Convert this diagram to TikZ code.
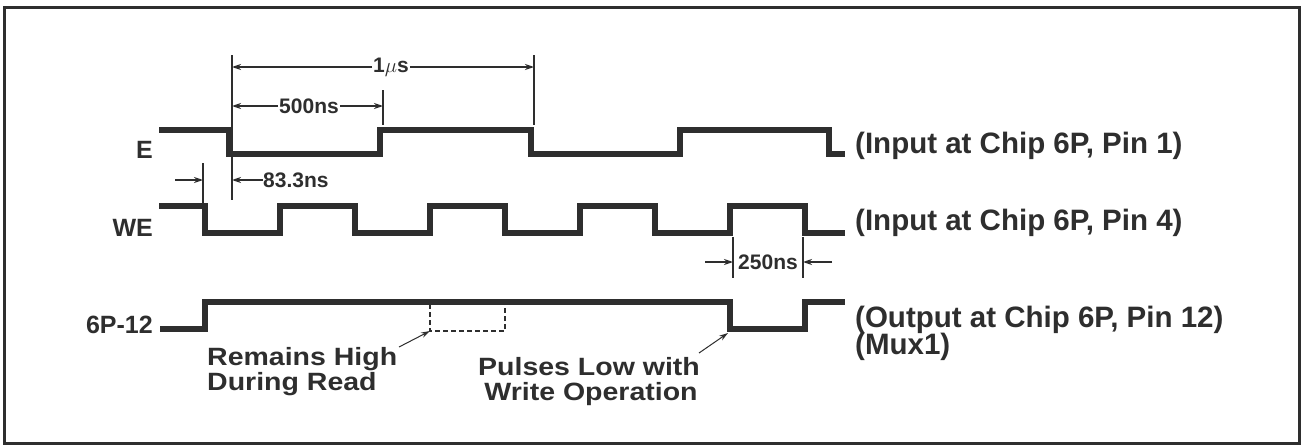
\documentclass[tikz,border=0pt]{standalone}
\usepackage{fontspec}
\setmainfont{Liberation Sans}
\newfontfamily\annfont{Liberation Sans}[FakeStretch=1.14]
\usetikzlibrary{arrows.meta}
\definecolor{ink}{HTML}{2E2E2E}
\begin{document}
\begin{tikzpicture}[x=1pt,y=-1pt,
  wave/.style={line width=6pt, draw=ink, line join=miter},
  dimline/.style={line width=1.3pt, draw=ink},
  dimarrow/.style={dimline, -{Stealth[length=9pt,width=6pt]}},
  annarrow/.style={line width=1pt, draw=ink, -{Stealth[length=9pt,width=5.5pt]}},
  dashbox/.style={line width=1.3pt, draw=ink, dash pattern=on 5pt off 3pt},
  sig/.style={font=\bfseries\fontsize{25}{28}\selectfont, text=ink, inner sep=0pt, anchor=base east},
  desc/.style={font=\bfseries\fontsize{29.5}{30}\selectfont, text=ink, inner sep=0pt, anchor=base west},
  dimtext/.style={font=\bfseries\fontsize{21}{24}\selectfont, text=ink, inner sep=1pt, fill=white},
  ann/.style={font=\annfont\bfseries\fontsize{25}{25}\selectfont, text=ink, inner sep=0pt}
]
\useasboundingbox (0,0) rectangle (1302,447);
\fill[white] (0,0) rectangle (1302,447);
% frame
\draw[line width=3pt, draw=ink] (4,7) rectangle (1299,443);

% signal labels
\node[sig] (lE) at (153,158) {E};
\node[sig] (lWE) at (153,236) {WE};
\node[sig] (l6P) at (153,333) {6P-12};

% waveforms
\draw[wave] (159,130) -- (229,130) -- (229,154) -- (380,154) -- (380,130) -- (531,130)
  -- (531,154) -- (680,154) -- (680,130) -- (829,130) -- (829,154) -- (845,154);
\draw[wave] (159,206) -- (205,206) -- (205,233) -- (280,233) -- (280,206) -- (355,206)
  -- (355,233) -- (430,233) -- (430,206) -- (505,206) -- (505,233) -- (580,233)
  -- (580,206) -- (655,206) -- (655,233) -- (730,233) -- (730,206) -- (805,206)
  -- (805,233) -- (845,233);
\draw[wave] (160,329) -- (205,329) -- (205,301.5) -- (730,301.5) -- (730,329)
  -- (805,329) -- (805,301.5) -- (845,301.5);

% dashed "would-be" pulse
\coordinate (d1) at (430,331);
\coordinate (d2) at (505,331);
\draw[dashbox] (430,304) -- (d1) -- (d2) -- (505,304);

% right-hand descriptions
\node[desc] (dE) at (855,153) {(Input at Chip 6P, Pin 1)};
\node[desc] (dWE) at (855,230) {(Input at Chip 6P, Pin 4)};
\node[desc] (d6P) at (855,327) {(Output at Chip 6P, Pin 12)};
\node[desc] (dMux) at (855,354) {(Mux1)};

% extension lines
\draw[dimline] (232,55) -- (232,200);
\draw[dimline] (534,55) -- (534,125);
\draw[dimline] (383,90) -- (383,125);
\draw[dimline] (203,163) -- (203,203);
\draw[dimline] (733,237) -- (733,278);
\draw[dimline] (803,237) -- (803,278);

% 1 us
\coordinate (u1) at (232,67);
\coordinate (u2) at (534,67);
\node[dimtext] (tus) at (391,67) {1$\mu$s};
\draw[dimarrow] (tus.west) -- (u1);
\draw[dimarrow] (tus.east) -- (u2);

% 500 ns
\coordinate (h1) at (232,106);
\coordinate (h2) at (383,106);
\node[dimtext] (t500) at (309,106) {500ns};
\draw[dimarrow] (t500.west) -- (h1);
\draw[dimarrow] (t500.east) -- (h2);

% 83.3 ns
\coordinate (s0) at (175,180);
\coordinate (s1) at (203,180);
\coordinate (s2) at (232,180);
\node[dimtext, anchor=west, inner sep=0pt] (t83) at (263,180) {83.3ns};
\draw[dimarrow] (s0) -- (s1);
\draw[dimarrow] (t83.west) -- (s2);

% 250 ns
\coordinate (q0) at (705,262);
\coordinate (q1) at (733,262);
\coordinate (q2) at (803,262);
\coordinate (q3) at (832,262);
\node[dimtext, inner sep=0pt] (t250) at (768,262) {250ns};
\draw[dimarrow] (q0) -- (q1);
\draw[dimarrow] (q3) -- (q2);

% annotations
\node[ann, anchor=base west] (rh1) at (207,365) {Remains High};
\node[ann, anchor=base west] (rh2) at (207,390) {During Read};
\node[ann, anchor=base] (pl1) at (589,375) {Pulses Low with};
\node[ann, anchor=base] (pl2) at (591,400) {Write Operation};
\coordinate (a1s) at (399,347);
\coordinate (a2s) at (699,353);
\coordinate (p1) at (728,333);
\draw[annarrow] (a1s) -- (d1);
\draw[annarrow] (a2s) -- (p1);
\end{tikzpicture}
\end{document}
